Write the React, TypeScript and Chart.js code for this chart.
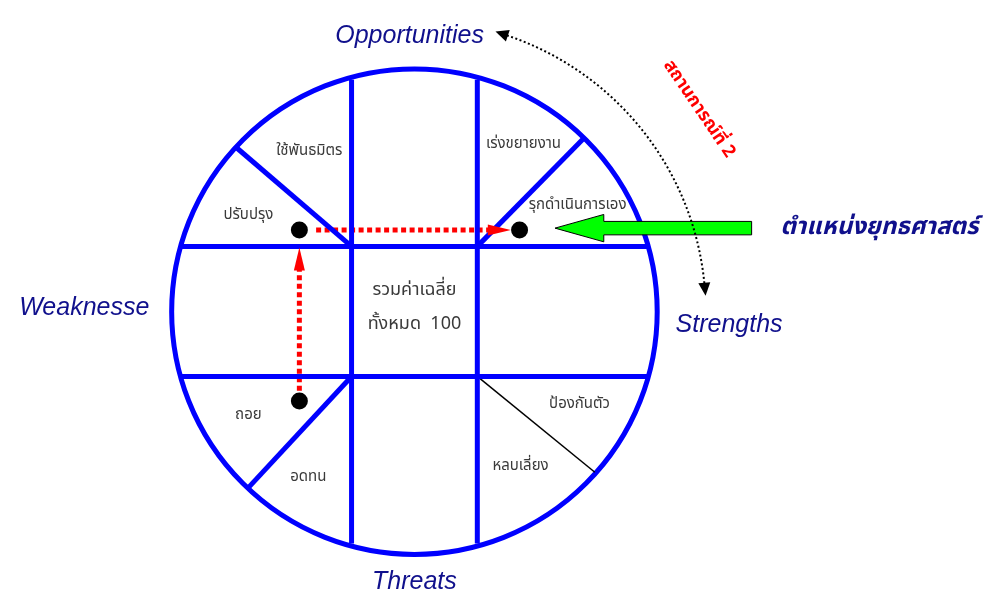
import React, { useEffect, useRef } from 'react';
import { Chart, registerables } from 'chart.js';

Chart.register(...registerables);

// ---- diagram data (units: circle radius = 1, centre = 0,0) ----
const circleRadius = 1;
const verticalDividerX = [-0.259, 0.259];
const horizontalDividerY = [0.272, -0.27];

const spokeStartX = [-0.259, 0.259, -0.259, 0.259];
const spokeStartY = [0.272, 0.272, -0.27, -0.27];
const spokeAngleDeg = [137, 46, 227, -42];
const spokeColors = ['#0000FF', '#0000FF', '#0000FF', '#000000'];
const spokeWidths = [5, 5, 5, 1.5];

const dotX = [-0.474, 0.433, -0.474];
const dotY = [0.34, 0.34, -0.372];

const moveFromX = [-0.405, -0.474];
const moveFromY = [0.34, -0.33];
const moveToX = [0.397, -0.474];
const moveToY = [0.34, 0.267];

const greenArrowX = [0.579, 0.78, 0.78, 1.389, 1.389, 0.78, 0.78];
const greenArrowY = [0.348, 0.405, 0.376, 0.376, 0.32, 0.32, 0.291];

const arcRadius = 1.2;
const arcStartDeg = 71.5;
const arcEndDeg = 5.5;

// axis labels: positions are text baselines
const axisLabels = ['Opportunities', 'Weaknesse', 'Strengths', 'Threats'];
const axisLabelX = [-0.02, -1.36, 1.296, 0];
const axisLabelY = [1.1215, -0.0121, -0.085, -1.154];

const cellLabels = ['ใช้พันธมิตร', 'เร่งขยายงาน', 'ปรับปรุง', 'รุกดำเนินการเอง', 'ถอย', 'อดทน', 'หลบเลี่ยง', 'ป้องกันตัว'];
const cellLabelX = [-0.433, 0.449, -0.684, 0.672, -0.684, -0.437, 0.437, 0.68];
const cellLabelY = [0.664, 0.696, 0.397, 0.441, -0.433, -0.692, -0.648, -0.389];

const centreLabels = ['รวมค่าเฉลี่ย', 'ทั้งหมด  100'];
const centreLabelX = [0, 0];
const centreLabelY = [0.085, -0.057];

const positionLabel = 'ตำแหน่งยุทธศาสตร์';
const positionLabelX = 1.915;
const positionLabelY = 0.344;

const situationLabel = 'สถานการณ์ที่ 2';
const situationLabelX = 1.168;
const situationLabelY = 0.842;
const situationAngleDeg = 56;

const X_MIN = -1.6721;
const X_MAX = 2.3482;
const Y_MIN = -1.1619;
const Y_MAX = 1.2632;

const NAVY = '#10108C';
const GREY = '#3A3A3A';
const THAI_FONT = 'Tahoma, "Noto Sans Thai", "Loma", "Garuda", "Norasi", sans-serif';

function rimPoint(deg: number) {
  const a = (deg * Math.PI) / 180;
  return { x: circleRadius * Math.cos(a), y: circleRadius * Math.sin(a) };
}

function head(ctx: CanvasRenderingContext2D, tx: number, ty: number, dx: number, dy: number, len: number, hw: number, color: string) {
  const n = Math.hypot(dx, dy);
  const ux = dx / n, uy = dy / n;
  const bx = tx - ux * len, by = ty - uy * len;
  ctx.beginPath();
  ctx.moveTo(tx, ty);
  ctx.lineTo(bx - uy * hw, by + ux * hw);
  ctx.lineTo(bx + uy * hw, by - ux * hw);
  ctx.closePath();
  ctx.fillStyle = color;
  ctx.fill();
}

const diagramPlugin = {
  id: 'swotDiagram',
  beforeDatasetsDraw(chart: any) {
    const ctx: CanvasRenderingContext2D = chart.ctx;
    const xs = chart.scales.x, ys = chart.scales.y;
    const cx = xs.getPixelForValue(0), cy = ys.getPixelForValue(0);
    const r = xs.getPixelForValue(circleRadius) - cx;
    ctx.save();
    ctx.beginPath();
    ctx.arc(cx, cy, r, 0, Math.PI * 2);
    ctx.strokeStyle = '#0000FF';
    ctx.lineWidth = 5;
    ctx.stroke();
    ctx.restore();
  },
  afterDatasetsDraw(chart: any) {
    const ctx: CanvasRenderingContext2D = chart.ctx;
    const xs = chart.scales.x, ys = chart.scales.y;
    const px = (v: number) => xs.getPixelForValue(v);
    const py = (v: number) => ys.getPixelForValue(v);
    ctx.save();

    // red arrow heads
    for (let i = 0; i < moveToX.length; i++) {
      const tx = px(moveToX[i]), ty = py(moveToY[i]);
      const fx = px(moveFromX[i]), fy = py(moveFromY[i]);
      head(ctx, tx, ty, tx - fx, ty - fy, 23, 5.5, '#FF0000');
    }

    // green block arrow
    ctx.beginPath();
    greenArrowX.forEach((v, i) => {
      if (i === 0) ctx.moveTo(px(v), py(greenArrowY[i]));
      else ctx.lineTo(px(v), py(greenArrowY[i]));
    });
    ctx.closePath();
    ctx.fillStyle = '#00FF00';
    ctx.fill();
    ctx.strokeStyle = '#000000';
    ctx.lineWidth = 1;
    ctx.stroke();

    // dotted arc with arrowheads
    const cx = px(0), cy = py(0);
    const ar = px(arcRadius) - cx;
    const a1 = (arcStartDeg * Math.PI) / 180;
    const a2 = (arcEndDeg * Math.PI) / 180;
    ctx.beginPath();
    ctx.setLineDash([2, 2.5]);
    ctx.arc(cx, cy, ar, -a1, -a2, false);
    ctx.strokeStyle = '#000000';
    ctx.lineWidth = 2;
    ctx.stroke();
    ctx.setLineDash([]);
    const s1x = cx + ar * Math.cos(a1), s1y = cy - ar * Math.sin(a1);
    const d1x = -Math.sin(a1), d1y = -Math.cos(a1);
    head(ctx, s1x + d1x * 12, s1y + d1y * 12, d1x, d1y, 13, 6, '#000000');
    const s2x = cx + ar * Math.cos(a2), s2y = cy - ar * Math.sin(a2);
    const d2x = Math.sin(a2), d2y = Math.cos(a2);
    head(ctx, s2x + d2x * 12, s2y + d2y * 12, d2x, d2y, 13, 6, '#000000');

    ctx.textAlign = 'center';

    // axis labels (alphabetic baseline)
    ctx.textBaseline = 'alphabetic';
    ctx.fillStyle = NAVY;
    ctx.font = 'italic 25px "Liberation Sans", Arial, sans-serif';
    axisLabels.forEach((t, i) => ctx.fillText(t, px(axisLabelX[i]), py(axisLabelY[i])));

    ctx.textBaseline = 'middle';
    // cell labels
    ctx.fillStyle = GREY;
    ctx.font = `15px ${THAI_FONT}`;
    cellLabels.forEach((t, i) => ctx.fillText(t, px(cellLabelX[i]), py(cellLabelY[i])));

    ctx.font = `18px ${THAI_FONT}`;
    centreLabels.forEach((t, i) => ctx.fillText(t, px(centreLabelX[i]), py(centreLabelY[i])));

    // position label
    ctx.fillStyle = NAVY;
    ctx.font = `italic bold 24px ${THAI_FONT}`;
    ctx.fillText(positionLabel, px(positionLabelX), py(positionLabelY));

    // situation label (rotated)
    ctx.save();
    ctx.translate(px(situationLabelX), py(situationLabelY));
    ctx.rotate((situationAngleDeg * Math.PI) / 180);
    ctx.fillStyle = '#FF0000';
    ctx.font = `bold 18px ${THAI_FONT}`;
    ctx.fillText(situationLabel, 0, 0);
    ctx.restore();

    ctx.restore();
  },
};

export default function App() {
  const ref = useRef<HTMLCanvasElement | null>(null);
  useEffect(() => {
    if (!ref.current) return;
    const lineDs = (pts: { x: number; y: number }[], color: string, width: number, dash: number[] = []) => ({
      type: 'scatter' as const,
      data: pts,
      showLine: true,
      borderColor: color,
      backgroundColor: color,
      borderWidth: width,
      borderDash: dash,
      borderCapStyle: 'butt' as const,
      pointRadius: 0,
      pointHoverRadius: 0,
    });
    const datasets: any[] = [];
    verticalDividerX.forEach((x) => {
      const h = Math.sqrt(circleRadius * circleRadius - x * x);
      datasets.push(lineDs([{ x, y: -h }, { x, y: h }], '#0000FF', 5));
    });
    horizontalDividerY.forEach((y) => {
      const w = Math.sqrt(circleRadius * circleRadius - y * y);
      datasets.push(lineDs([{ x: -w, y }, { x: w, y }], '#0000FF', 5));
    });
    spokeAngleDeg.forEach((deg, i) => {
      const p = rimPoint(deg);
      datasets.push(lineDs([{ x: spokeStartX[i], y: spokeStartY[i] }, p], spokeColors[i], spokeWidths[i]));
    });
    moveFromX.forEach((fx, i) => {
      const tx = moveToX[i], ty = moveToY[i];
      const dx = tx - fx, dy = ty - moveFromY[i];
      const n = Math.hypot(dx, dy);
      const back = 22 / 247;
      datasets.push(
        lineDs([{ x: fx, y: moveFromY[i] }, { x: tx - (dx / n) * back, y: ty - (dy / n) * back }], '#FF0000', 5, [5, 3.5])
      );
    });
    datasets.push({
      type: 'scatter',
      data: dotX.map((x, i) => ({ x, y: dotY[i] })),
      pointRadius: 8.5,
      pointBackgroundColor: '#000000',
      pointBorderWidth: 0,
      showLine: false,
    });

    const chart = new Chart(ref.current, {
      type: 'scatter',
      data: { datasets },
      options: {
        animation: false,
        responsive: false,
        devicePixelRatio: 1,
        events: [],
        layout: { padding: 0 },
        plugins: { legend: { display: false }, tooltip: { enabled: false }, title: { display: false } },
        scales: {
          x: { type: 'linear', min: X_MIN, max: X_MAX, display: false },
          y: { type: 'linear', min: Y_MIN, max: Y_MAX, display: false },
        },
      },
      plugins: [diagramPlugin],
    });
    return () => chart.destroy();
  }, []);
  return (
    <div style={{ position: 'fixed', left: 0, top: 0, width: 993, height: 599, background: '#fff' }}>
      <canvas ref={ref} width={993} height={599} style={{ display: 'block', width: 993, height: 599 }} />
    </div>
  );
}
